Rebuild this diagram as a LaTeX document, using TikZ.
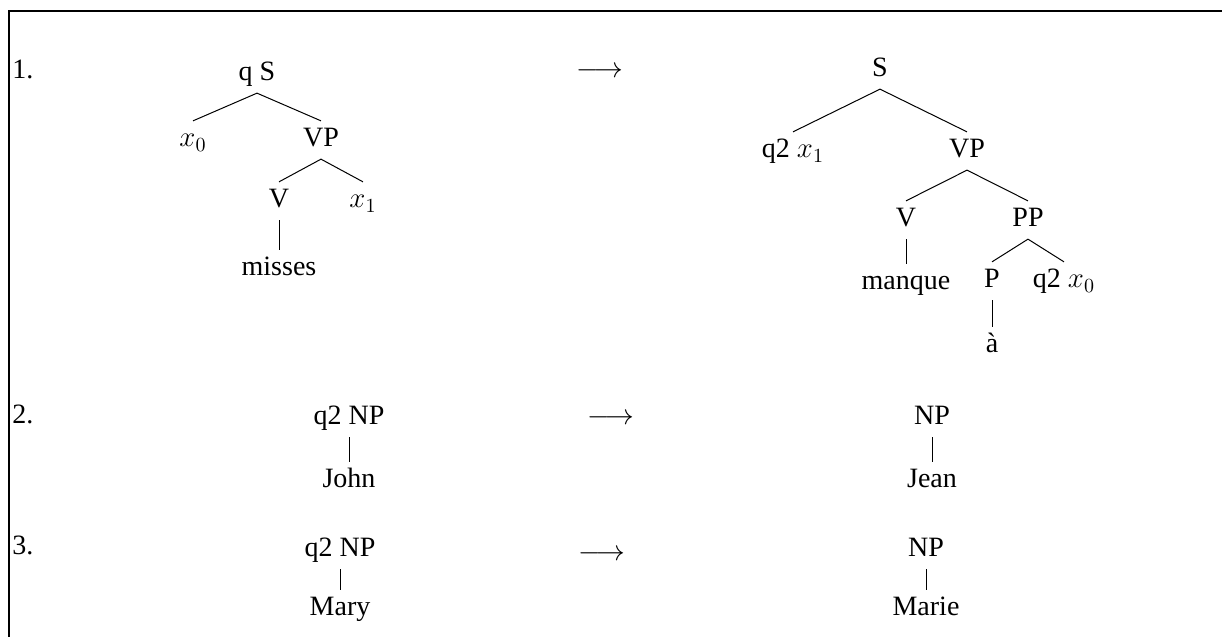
\documentclass[tikz,border=0pt]{standalone}
\usepackage[no-math]{fontspec}
\setmainfont{Liberation Serif}
\begin{document}
\begin{tikzpicture}[x=0.5pt,y=-0.5pt,
		every node/.style={font=\fontsize{14}{17}\selectfont,inner xsep=0pt,inner ysep=3pt,text height=9.75pt,text depth=3pt},
		edge from parent/.style={draw,line width=0.5pt},
		edge from parent path={(\tikzparentnode.south) -- (\tikzchildnode.north)}]
	\useasboundingbox (0,0) rectangle (1222,637);
	\draw[line width=1pt] (9,637) -- (9,11) -- (1222,11);
	\node[anchor=base west] (numa) at (12,78) {1.};
	\node[anchor=base west] (numb) at (12,423) {2.};
	\node[anchor=base west] (numc) at (12,554) {3.};
	\node[anchor=base] (arra) at (600,77) {$\longrightarrow$};
	\node[anchor=base] (arrb) at (611,424) {$\longrightarrow$};
	\node[anchor=base] (arrc) at (602,560) {$\longrightarrow$};
	\node (qs) at (257,74) {q S} [sibling distance=64pt,level distance=33pt]
		child {
			node (xa) {$x_0$}
		}
		child {
			node (vpa) {VP} [sibling distance=42pt,level distance=30.5pt]
			child {
				node (va) {V} [level distance=34pt]
				child {
					node (misses) {misses}
				}
			}
			child {
				node (xb) {$x_1$}
			}
		};
	\node (s) at (880,70) {S} [sibling distance=87pt,level distance=40.5pt]
		child {
			node (qxb) {q2 $x_1$}
		}
		child {
			node (vpb) {VP} [sibling distance=61pt,level distance=34.5pt]
			child {
				node (vb) {V} [level distance=31.5pt]
				child {
					node (manque) {manque}
				}
			}
			child {
				node (pp) {PP} [sibling distance=36pt,level distance=30.5pt]
				child {
					node (p) {P} [level distance=32.5pt]
					child {
						node (a) {à}
					}
				}
				child {
					node (qxa) {q2 $x_0$}
				}
			}
		};
	\node (qnpa) at (349,418) {q2 NP} [level distance=31.5pt]
		child {
			node (john) {John}
		};
	\node (npa) at (932,418) {NP} [level distance=31.5pt]
		child {
			node (jean) {Jean}
		};
	\node (qnpb) at (340,550) {q2 NP} [level distance=29.5pt]
		child {
			node (mary) {Mary}
		};
	\node (npb) at (926,550) {NP} [level distance=29.5pt]
		child {
			node (marie) {Marie}
		};
\end{tikzpicture}
\end{document}
